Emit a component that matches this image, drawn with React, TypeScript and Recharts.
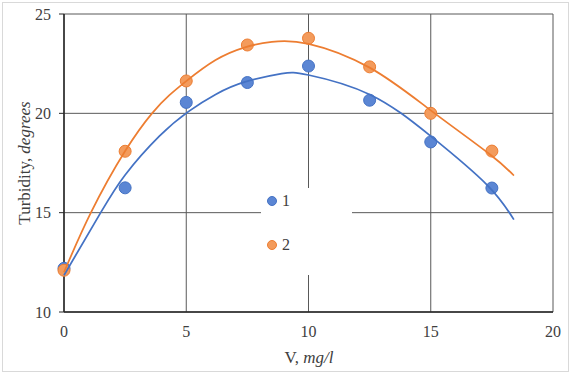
import { CartesianGrid, Legend, Scatter, ScatterChart, XAxis, YAxis } from "recharts";

// measured points
const xValues = [0, 2.5, 5, 7.5, 10, 12.5, 15, 17.5];
const series1Values = [12.2, 16.25, 20.55, 21.55, 22.38, 20.66, 18.56, 16.24];
const series2Values = [12.1, 18.09, 21.63, 23.44, 23.78, 22.34, 20.0, 18.1];

// trend curves
const trend1X = [0, 1.5, 2.5, 3.9, 5.1, 6.2, 7.4, 8.9, 10, 12.5, 15, 17.3, 18.4];
const trend1Y = [11.85, 15.0, 16.9, 18.85, 20.1, 20.95, 21.58, 22.0, 21.93, 20.95, 18.85, 16.4, 14.65];
const trend2X = [0, 1.1, 2.5, 3.6, 4.3, 5, 6.2, 7.4, 8.5, 10, 12.5, 15, 17.4, 18.4];
const trend2Y = [12.0, 15.0, 18.1, 20.0, 20.9, 21.62, 22.68, 23.32, 23.6, 23.5, 22.3, 20.15, 17.95, 16.87];

const xTicks = [0, 5, 10, 15, 20];
const yTicks = [10, 15, 20, 25];
const seriesNames = ["1", "2"];

const BLUE = "#4472C4";
const ORANGE = "#ED7D31";
const FONT = "'Liberation Serif', 'Times New Roman', serif";
const TEXT = "#404040";

const toPoints = (xs: number[], ys: number[]) => xs.map((x, i) => ({ x, y: ys[i] }));

const points1 = toPoints(xValues, series1Values);
const points2 = toPoints(xValues, series2Values);
const trend1 = toPoints(trend1X, trend1Y);
const trend2 = toPoints(trend2X, trend2Y);

const dot = (stroke: string, fill: string) => (props: any) => (
  <circle cx={props.cx} cy={props.cy} r={6} fill={fill} stroke={stroke} strokeWidth={1} />
);

const noDot = () => <g />;

function YTitle() {
  return (
    <text x={30} y={163} transform="rotate(-90 30 163)" textAnchor="middle" fontFamily={FONT} fontSize={17} fill={TEXT}>
      Turbidity, <tspan fontStyle="italic">degrees</tspan>
    </text>
  );
}

function XTitle() {
  return (
    <text x={309} y={363} textAnchor="middle" fontFamily={FONT} fontSize={17} fill={TEXT}>
      V, <tspan fontStyle="italic">mg/l</tspan>
    </text>
  );
}

function LegendBox() {
  const colors = [[BLUE, "#5b86d4"], [ORANGE, "#f39b5c"]];
  return (
    <div style={{ width: 91, height: 87, background: "#fff", position: "relative", fontFamily: FONT, fontSize: 16, color: TEXT }}>
      {seriesNames.map((name, i) => (
        <div key={name} style={{ position: "absolute", left: 4, top: 4 + i * 44, height: 18, display: "flex", alignItems: "center" }}>
          <svg width={14} height={14}>
            <circle cx={7} cy={7} r={4.5} fill={colors[i][1]} stroke={colors[i][0]} strokeWidth={1} />
          </svg>
          <span style={{ marginLeft: 3 }}>{name}</span>
        </div>
      ))}
    </div>
  );
}

export default function App() {
  return (
    <div style={{ position: "absolute", left: 0, top: 0, width: 571, height: 375, background: "#fff" }}>
      <div style={{ position: "absolute", left: 2, top: 2, width: 567, height: 370, border: "1px solid #d9d9d9", boxSizing: "border-box" }} />
      <ScatterChart width={571} height={375} margin={{ top: 14, right: 18, bottom: 23, left: 0 }}>
        <CartesianGrid stroke="#595959" strokeWidth={1} />
        <XAxis
          type="number"
          dataKey="x"
          domain={[0, 20]}
          ticks={xTicks}
          height={40}
          tickLine={false}
          tickSize={0}
          tickMargin={14}
          axisLine={{ stroke: "#262626", strokeWidth: 1.5 }}
          tick={{ fontFamily: FONT, fontSize: 16, fill: TEXT }}
          label={<XTitle />}
        />
        <YAxis
          type="number"
          dataKey="y"
          domain={[10, 25]}
          ticks={yTicks}
          width={64}
          tickSize={5}
          tickMargin={8}
          tickLine={{ stroke: "#262626" }}
          axisLine={{ stroke: "#262626", strokeWidth: 1.5 }}
          tick={{ fontFamily: FONT, fontSize: 16, fill: TEXT }}
          label={<YTitle />}
        />
        <Legend
          layout="vertical"
          align="center"
          verticalAlign="middle"
          content={() => <LegendBox />}
          wrapperStyle={{ left: 261, top: 188, width: 91, height: 87 }}
        />
        <Scatter name={seriesNames[0]} data={points1} fill={BLUE} shape={dot(BLUE, "#5b86d4")} isAnimationActive={false} />
        <Scatter name={seriesNames[1]} data={points2} fill={ORANGE} shape={dot(ORANGE, "#f39b5c")} isAnimationActive={false} />
        <Scatter
          data={trend1}
          fill={BLUE}
          line={{ stroke: BLUE, strokeWidth: 1.75 }}
          lineJointType="natural"
          shape={noDot}
          legendType="none"
          isAnimationActive={false}
        />
        <Scatter
          data={trend2}
          fill={ORANGE}
          line={{ stroke: ORANGE, strokeWidth: 1.75 }}
          lineJointType="natural"
          shape={noDot}
          legendType="none"
          isAnimationActive={false}
        />
      </ScatterChart>
    </div>
  );
}
